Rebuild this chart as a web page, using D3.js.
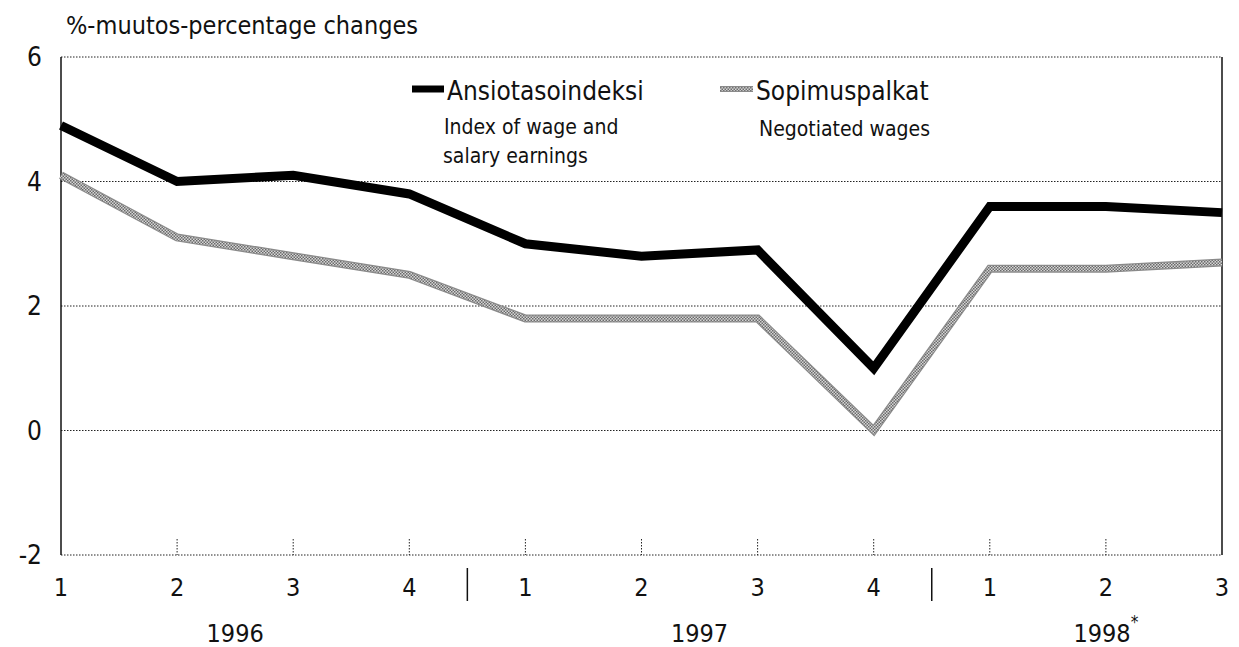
<!DOCTYPE html>
<html>
<head>
<meta charset="utf-8">
<script src="https://cdn.jsdelivr.net/npm/d3@7"></script>
<style>
  body { margin: 0; background: #fff; }
  text { font-family: "Liberation Sans Narrow", "DejaVu Sans Condensed", "Roboto", sans-serif; fill: #111; }
</style>
</head>
<body>
<div id="chart"></div>
<script>
const quarters = ['1', '2', '3', '4', '1', '2', '3', '4', '1', '2', '3'];
const years = [
  { label: '1996', from: 0, to: 3, star: false },
  { label: '1997', from: 4, to: 7, star: false },
  { label: '1998', from: 8, to: 10, star: true }
];
const ansiotaso = [4.9, 4.0, 4.1, 3.8, 3.0, 2.8, 2.9, 1.0, 3.6, 3.6, 3.5];
const sopimus = [4.1, 3.1, 2.8, 2.5, 1.8, 1.8, 1.8, 0.0, 2.6, 2.6, 2.7];
const yTicks = [-2, 0, 2, 4, 6];

const W = 1239, H = 647;
const margin = { top: 57, right: 17, bottom: 92, left: 61 };
const width = W - margin.left - margin.right;
const height = H - margin.top - margin.bottom;

const svg = d3.select('#chart').append('svg')
  .attr('width', W).attr('height', H);

// halftone-like pattern for the grey series
const defs = svg.append('defs');
const pat = defs.append('pattern')
  .attr('id', 'halftone')
  .attr('patternUnits', 'userSpaceOnUse')
  .attr('width', 3).attr('height', 3);
pat.append('rect').attr('width', 3).attr('height', 3).attr('fill', '#d6d6d6');
pat.append('rect').attr('width', 1.5).attr('height', 1.5).attr('fill', '#6a6a6a');
pat.append('rect').attr('x', 1.5).attr('y', 1.5).attr('width', 1.5).attr('height', 1.5).attr('fill', '#6a6a6a');

const g = svg.append('g')
  .attr('transform', `translate(${margin.left},${margin.top})`);

const x = d3.scaleLinear().domain([0, quarters.length - 1]).range([0, width]);
const y = d3.scaleLinear().domain([-2, 6]).range([height, 0]);

// gridlines (dotted)
g.append('g')
  .selectAll('line')
  .data(yTicks)
  .join('line')
  .attr('x1', 0).attr('x2', width)
  .attr('y1', d => y(d)).attr('y2', d => y(d))
  .attr('stroke', '#222').attr('stroke-width', 1)
  .attr('stroke-dasharray', '1.5,1.5');

// left and right frame
g.append('line').attr('x1', 0).attr('x2', 0).attr('y1', 0).attr('y2', height)
  .attr('stroke', '#111').attr('stroke-width', 1.5);
g.append('line').attr('x1', width).attr('x2', width).attr('y1', 0).attr('y2', height)
  .attr('stroke', '#111').attr('stroke-width', 1.5);

// small dotted ticks above bottom axis
g.append('g')
  .selectAll('line')
  .data(d3.range(1, quarters.length - 1))
  .join('line')
  .attr('x1', d => x(d)).attr('x2', d => x(d))
  .attr('y1', height - 16).attr('y2', height)
  .attr('stroke', '#222').attr('stroke-width', 1)
  .attr('stroke-dasharray', '1.5,1.5');

// y labels
svg.append('g')
  .selectAll('text')
  .data(yTicks)
  .join('text')
  .attr('x', 42)
  .attr('y', d => margin.top + y(d) + 9)
  .attr('text-anchor', 'end')
  .attr('font-size', 26)
  .text(d => d);

// x quarter labels
svg.append('g')
  .selectAll('text')
  .data(quarters)
  .join('text')
  .attr('x', (d, i) => margin.left + x(i))
  .attr('y', 596)
  .attr('text-anchor', 'middle')
  .attr('font-size', 25)
  .text(d => d);

// year labels
const yl = svg.append('g');
years.forEach(yr => {
  const cx = margin.left + (x(yr.from) + x(yr.to)) / 2;
  const t = yl.append('text')
    .attr('x', cx).attr('y', 642)
    .attr('text-anchor', 'middle')
    .attr('font-size', 25)
    .text(yr.label);
  if (yr.star) {
    t.append('tspan').attr('dy', -14).attr('font-size', 17).text('*');
  }
});
// year separators
yl.selectAll('line')
  .data([3.5, 7.5])
  .join('line')
  .attr('x1', d => margin.left + x(d)).attr('x2', d => margin.left + x(d))
  .attr('y1', 568).attr('y2', 601)
  .attr('stroke', '#111').attr('stroke-width', 1.5);

// title
svg.append('text')
  .attr('x', 66).attr('y', 34)
  .attr('font-size', 25)
  .text('%-muutos-percentage changes');

const line = d3.line()
  .x((d, i) => x(i))
  .y(d => y(d));

// Sopimuspalkat: grey halftone line with darker edges
g.append('path').datum(sopimus)
  .attr('fill', 'none').attr('stroke', '#8a8a8a').attr('stroke-width', 8)
  .attr('stroke-linejoin', 'miter').attr('d', line);
g.append('path').datum(sopimus)
  .attr('fill', 'none').attr('stroke', 'url(#halftone)').attr('stroke-width', 5.5)
  .attr('stroke-linejoin', 'miter').attr('d', line);

// Ansiotasoindeksi: heavy black line
g.append('path').datum(ansiotaso)
  .attr('fill', 'none').attr('stroke', '#000').attr('stroke-width', 9)
  .attr('stroke-linejoin', 'miter').attr('d', line);

// legend
const lg = svg.append('g');
lg.append('line').attr('x1', 412).attr('x2', 444).attr('y1', 89).attr('y2', 89)
  .attr('stroke', '#000').attr('stroke-width', 7);
lg.append('text').attr('x', 447).attr('y', 100).attr('font-size', 26).text('Ansiotasoindeksi');
lg.append('text').attr('x', 444).attr('y', 134).attr('font-size', 21).text('Index of wage and');
lg.append('text').attr('x', 443).attr('y', 163).attr('font-size', 21).text('salary earnings');

lg.append('line').attr('x1', 720).attr('x2', 753).attr('y1', 89).attr('y2', 89)
  .attr('stroke', '#8a8a8a').attr('stroke-width', 6);
lg.append('line').attr('x1', 720).attr('x2', 753).attr('y1', 89).attr('y2', 89)
  .attr('stroke', 'url(#halftone)').attr('stroke-width', 3.5);
lg.append('text').attr('x', 756).attr('y', 100).attr('font-size', 26).text('Sopimuspalkat');
lg.append('text').attr('x', 759).attr('y', 136).attr('font-size', 21).text('Negotiated wages');
</script>
</body>
</html>
